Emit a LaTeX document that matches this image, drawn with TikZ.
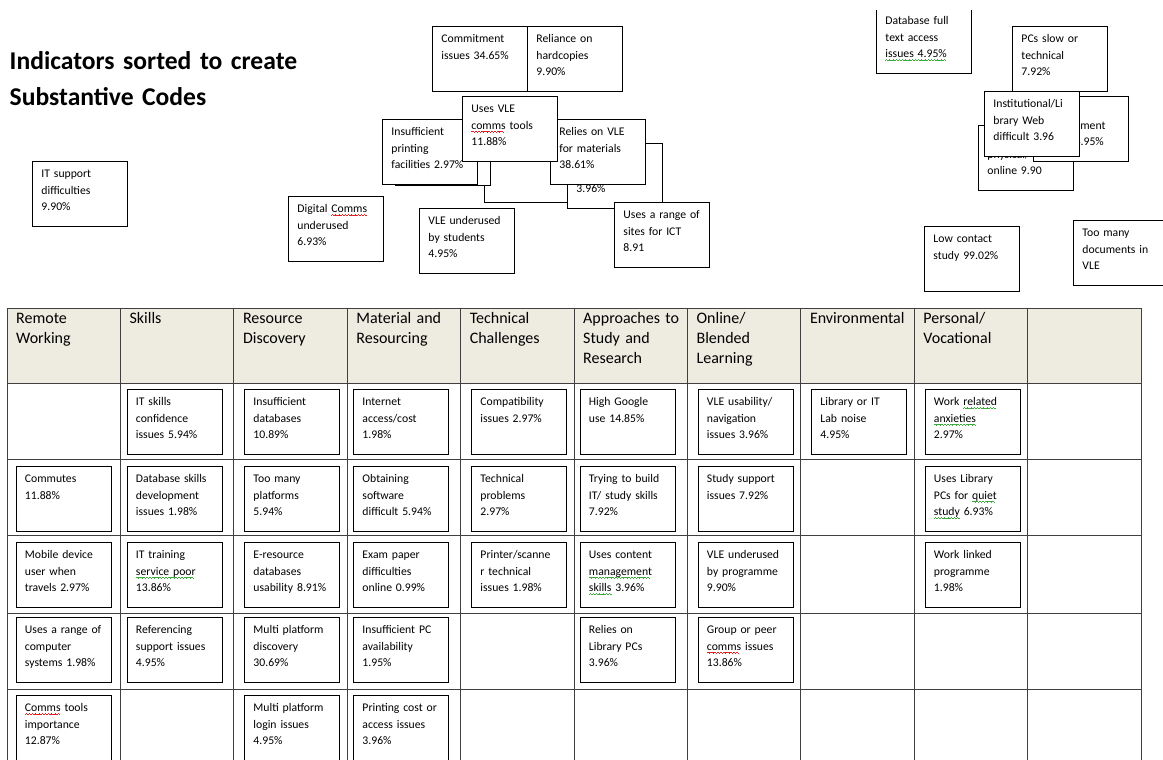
\documentclass[tikz,border=0pt]{standalone}
\usepackage{fontspec}
\setmainfont{Carlito}
\usepackage{xcolor}
\definecolor{hdtan}{RGB}{238,236,225}
\definecolor{sqred}{RGB}{230,30,30}
\definecolor{sqgrn}{RGB}{60,170,60}
\newcommand{\wavebit}{\hbox{\rule[-2.6pt]{0.8pt}{0.6pt}\rule[-2.1pt]{0.8pt}{0.6pt}\rule[-2.6pt]{0.8pt}{0.6pt}\rule[-3.1pt]{0.8pt}{0.6pt}}}
\newcommand{\sqline}[2]{\leavevmode\setbox0\hbox{#2}\rlap{\color{#1}\leaders\wavebit\hskip\wd0}#2}
\newcommand{\redsq}[1]{\sqline{sqred}{#1}}
\newcommand{\grnsq}[1]{\sqline{sqgrn}{#1}}

\begin{document}
\begin{tikzpicture}[x=1pt,y=-1pt,
    ind/.style={draw, line width=0.9pt, fill=white, anchor=north west, text width=77pt, inner xsep=9pt, inner ysep=0pt, text height=16.5pt, text depth=48.5pt, align=left, font=\fontsize{11.7}{16.5}\selectfont},
    hd/.style={anchor=north west, inner sep=0pt, text width=105pt, text height=15.5pt, align=left, font=\fontsize{16}{20}\selectfont},
    grid/.style={line width=0.8pt, draw=black!75}]
    \useasboundingbox (0,0) rectangle (1163,760);
    \clip (0,0) rectangle (1163,760);

    % title
    \node[anchor=base west, inner sep=0pt, text width=330pt, align=left, font=\fontsize{25.6}{36.7}\selectfont\bfseries] (title) at (9.5,69.3) {Indicators sorted to create\\Substantive Codes};

    % table
    \fill[hdtan] (7,308) rectangle (1141,383);
    \draw[grid] (7,308) -- (1141,308);
    \draw[grid] (7,383) -- (1141,383);
    \draw[grid] (7,459) -- (1141,459);
    \draw[grid] (7,535) -- (1141,535);
    \draw[grid] (7,613) -- (1141,613);
    \draw[grid] (7,689) -- (1141,689);
    \draw[grid] (7,308) -- (7,770);
    \draw[grid] (120.4,308) -- (120.4,770);
    \draw[grid] (233.8,308) -- (233.8,770);
    \draw[grid] (347.2,308) -- (347.2,770);
    \draw[grid] (460.6,308) -- (460.6,770);
    \draw[grid] (574,308) -- (574,770);
    \draw[grid] (687.4,308) -- (687.4,770);
    \draw[grid] (800.8,308) -- (800.8,770);
    \draw[grid] (914.2,308) -- (914.2,770);
    \draw[grid] (1027.6,308) -- (1027.6,770);
    \draw[grid] (1141,308) -- (1141,770);

    \node[hd] (hremote) at (16,308) {Remote\\Working};
    \node[hd] (hskills) at (129.4,308) {Skills};
    \node[hd] (hresdisc) at (242.8,308) {Resource\\Discovery};
    \node[hd] (hmater) at (356.2,308) {Material and\\Resourcing};
    \node[hd] (htech) at (469.6,308) {Technical\\Challenges};
    \node[hd] (happr) at (583,308) {Approaches to\\Study and\\Research};
    \node[hd] (honline) at (696.4,308) {Online/\\Blended\\Learning};
    \node[hd] (henv) at (809.8,308) {Environmental};
    \node[hd] (hpers) at (923.2,308) {Personal/\\Vocational};

    % row 1
    \node[ind] (itconf) at (126.5,389) {IT skills\\confidence\\issues 5.94\%};
    \node[ind] (insdb) at (244,389) {Insufficient\\databases\\10.89\%};
    \node[ind] (netcost) at (353,389) {Internet\\access/cost\\1.98\%};
    \node[ind] (compat) at (471,389) {Compatibility\\issues 2.97\%};
    \node[ind] (google) at (579.5,389) {High Google\\use 14.85\%};
    \node[ind] (vlenav) at (697.5,389) {VLE usability/\\navigation\\issues 3.96\%};
    \node[ind] (noise) at (811,389) {Library or IT\\Lab noise\\4.95\%};
    \node[ind] (workanx) at (924.5,389) {Work \grnsq{related}\\\grnsq{anxieties}\\2.97\%};
    % row 2
    \node[ind] (commute) at (15.5,466) {Commutes\\11.88\%};
    \node[ind] (dbskill) at (126.5,466) {Database skills\\development\\issues 1.98\%};
    \node[ind] (manyplat) at (244,466) {Too many\\platforms\\5.94\%};
    \node[ind] (software) at (353,466) {Obtaining\\software\\difficult 5.94\%};
    \node[ind] (techprob) at (471,466) {Technical\\problems\\2.97\%};
    \node[ind] (buildsk) at (579.5,466) {Trying to build\\IT/ study skills\\7.92\%};
    \node[ind] (studysup) at (697.5,466) {Study support\\issues 7.92\%};
    \node[ind] (quietpc) at (924.5,466) {Uses Library\\PCs for \grnsq{quiet}\\\grnsq{study} 6.93\%};
    % row 3
    \node[ind] (mobile) at (15.5,542) {Mobile device\\user when\\travels 2.97\%};
    \node[ind] (ittrain) at (126.5,542) {IT training\\\grnsq{service poor}\\13.86\%};
    \node[ind] (eresdb) at (244,542) {E-resource\\databases\\usability 8.91\%};
    \node[ind] (exampap) at (353,542) {Exam paper\\difficulties\\online 0.99\%};
    \node[ind] (printer) at (471,542) {Printer/scanne\\r technical\\issues 1.98\%};
    \node[ind] (content) at (579.5,542) {Uses content\\\grnsq{management}\\\grnsq{skills} 3.96\%};
    \node[ind] (vleprog) at (697.5,542) {VLE underused\\by programme\\9.90\%};
    \node[ind] (worklink) at (924.5,542) {Work linked\\programme\\1.98\%};
    % row 4
    \node[ind] (range) at (15.5,617) {Uses a range of\\computer\\systems 1.98\%};
    \node[ind] (refsup) at (126.5,617) {Referencing\\support issues\\4.95\%};
    \node[ind] (multidisc) at (244,617) {Multi platform\\discovery\\30.69\%};
    \node[ind] (pcavail) at (353,617) {Insufficient PC\\availability\\1.95\%};
    \node[ind] (libpc) at (579.5,617) {Relies on\\Library PCs\\3.96\%};
    \node[ind] (peercomm) at (697.5,617) {Group or peer\\\redsq{comms} issues\\13.86\%};
    % row 5
    \node[ind] (commstool) at (15.5,695) {\redsq{Comms} tools\\importance\\12.87\%};
    \node[ind] (multilog) at (244,695) {Multi platform\\login issues\\4.95\%};
    \node[ind] (printcost) at (353,695) {Printing cost or\\access issues\\3.96\%};

    % loose indicators
    \node[ind] (itsup) at (32,161) {IT support\\difficulties\\9.90\%};
    \node[ind] (digcomm) at (288,196) {Digital \redsq{Comms}\\underused\\6.93\%};
    \node[ind] (commit) at (432,26) {Commitment\\issues 34.65\%};
    \node[ind] (hardc) at (527,26) {Reliance on\\hardcopies\\9.90\%};
    \node[ind] (hidB) at (484,137) {};
    \node[ind] (hidA) at (395,120) {};
    \node[ind] (hidC) at (567,143) {\mbox{}\\\mbox{}\\3.96\%};
    \node[ind] (insprint) at (382,119) {Insufficient\\printing\\facilities 2.97\%};
    \node[ind] (relvle) at (550,119) {Relies on VLE\\for materials\\38.61\%};
    \node[ind] (vlecomm) at (462,96) {Uses VLE\\\redsq{comms} tools\\11.88\%};
    \node[ind] (vleund) at (419,208) {VLE underused\\by students\\4.95\%};
    \node[ind] (sites) at (614,202) {Uses a range of\\sites for ICT\\8.91};

    \node[ind, draw=none] (dbfull) at (876,8) {Database full\\text access\\\grnsq{issues  4.95\%}};
    \draw[line width=0.9pt] ([yshift=-2pt]dbfull.north west) |- (dbfull.south east) -- ([yshift=-2pt]dbfull.north east);
    \node[ind] (pcslow) at (1012,26) {PCs slow or\\technical\\7.92\%};
    \node[ind] (physical) at (978,125) {\mbox{}\\physical/\\online 9.90};
    \node[ind] (devel) at (1033,96) {\mbox{}\\development\\issues 4.95\%};
    \node[ind] (instweb) at (984,91) {Institutional/Li\\brary Web\\difficult 3.96};
    \node[ind] (lowcon) at (924,226) {Low contact\\study 99.02\%};
    \node[ind] (toomany) at (1073,220) {Too many\\documents in\\VLE};

\end{tikzpicture}
\end{document}
